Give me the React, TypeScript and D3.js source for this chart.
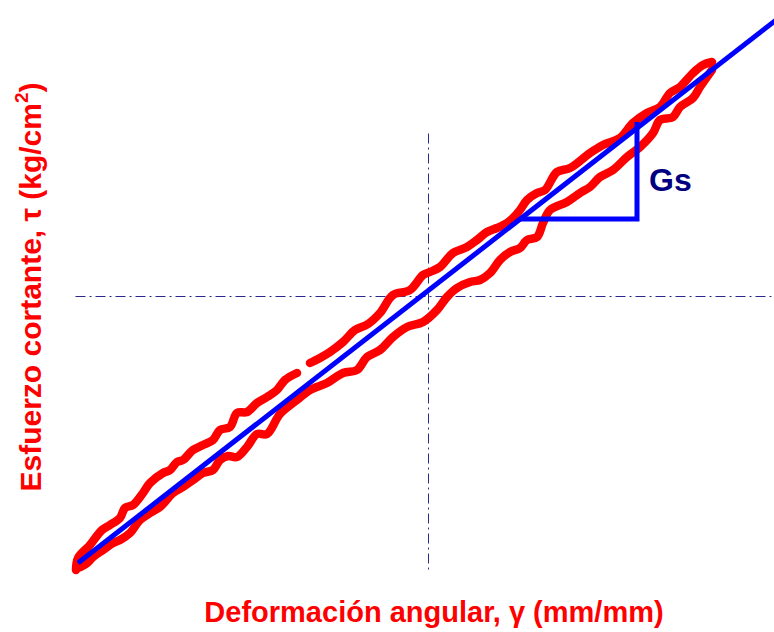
import React from "react";
import * as d3 from "d3";

type P = [number, number];

// Hysteresis loop: shear strain (gamma) vs shear stress (tau), arbitrary units
const upperBranchA: P[] = [
  [-3.52, -2.74], [-3.5, -2.62], [-3.38, -2.49], [-3.26, -2.34], [-3.18, -2.29],
  [-3.08, -2.22], [-3.03, -2.12], [-2.95, -2.09], [-2.85, -1.97], [-2.78, -1.87],
  [-2.65, -1.77], [-2.58, -1.74], [-2.51, -1.66], [-2.45, -1.64], [-2.35, -1.54],
  [-2.25, -1.49], [-2.15, -1.44], [-2.08, -1.34], [-1.98, -1.31], [-1.91, -1.17],
  [-1.81, -1.16], [-1.71, -1.07], [-1.61, -1.01], [-1.51, -0.94], [-1.43, -0.84],
  [-1.31, -0.77],
];
const upperBranchB: P[] = [
  [-1.18, -0.67], [-1.08, -0.62], [-0.98, -0.56], [-0.85, -0.46], [-0.73, -0.34],
  [-0.6, -0.28], [-0.48, -0.17], [-0.35, 0.01], [-0.18, 0.06], [-0.05, 0.21],
  [0.02, 0.24], [0.12, 0.29], [0.25, 0.43], [0.39, 0.49], [0.49, 0.56],
  [0.59, 0.64], [0.69, 0.68], [0.79, 0.73], [0.85, 0.78], [0.92, 0.86],
  [0.99, 0.96], [1.09, 1.03], [1.17, 1.06], [1.29, 1.24], [1.42, 1.28],
  [1.62, 1.43], [1.75, 1.51], [1.92, 1.58], [2.05, 1.73], [2.19, 1.83],
  [2.32, 1.89], [2.42, 2.03], [2.52, 2.09], [2.65, 2.23], [2.75, 2.31],
  [2.84, 2.34],
];
const lowerBranch: P[] = [
  [2.84, 2.26], [2.72, 2.09], [2.65, 1.98], [2.52, 1.89], [2.45, 1.79],
  [2.32, 1.76], [2.25, 1.63], [2.12, 1.49], [1.99, 1.39], [1.85, 1.26],
  [1.72, 1.19], [1.62, 1.09], [1.52, 1.03], [1.39, 0.94], [1.22, 0.86],
  [1.15, 0.73], [1.09, 0.59], [0.99, 0.56], [0.92, 0.48], [0.82, 0.44],
  [0.72, 0.36], [0.62, 0.23], [0.52, 0.16], [0.42, 0.14], [0.29, 0.08],
  [0.19, -0.01], [0.09, -0.14], [-0.05, -0.26], [-0.21, -0.31], [-0.35, -0.41],
  [-0.48, -0.54], [-0.61, -0.61], [-0.71, -0.74], [-0.85, -0.77], [-1.01, -0.87],
  [-1.18, -0.94], [-1.31, -1.04], [-1.48, -1.18], [-1.61, -1.38], [-1.71, -1.38],
  [-1.81, -1.51], [-1.91, -1.61], [-2.0, -1.6], [-2.08, -1.64], [-2.15, -1.74],
  [-2.25, -1.77], [-2.35, -1.84], [-2.45, -1.91], [-2.55, -1.97], [-2.68, -2.11],
  [-2.78, -2.17], [-2.88, -2.24], [-2.98, -2.37], [-3.08, -2.44], [-3.15, -2.47],
  [-3.25, -2.54], [-3.35, -2.61], [-3.41, -2.67], [-3.5, -2.72],
];
const secantLine: P[] = [[-3.5, -2.67], [3.48, 2.76]];
const slopeTriangle: P[] = [[0.92, 0.77], [2.09, 0.77], [2.09, 1.74]];
const xAxisLine: P[] = [[-3.53, 0], [3.46, 0]];
const yAxisLine: P[] = [[0, 1.63], [0, -2.76]];

const xLabel = "Deformación angular, γ (mm/mm)";
const yLabelMain = "Esfuerzo cortante, τ (kg/cm";
const slopeLabel = "Gs";

const W = 774;
const H = 632;

export default function App() {
  const x = d3.scaleLinear().domain([-3.5, 3.5]).range([78, 778]);
  const y = d3.scaleLinear().domain([-2.7, 2.7]).range([566, 26]);
  const smooth = d3
    .line<P>()
    .x((d) => x(d[0]))
    .y((d) => y(d[1]))
    .curve(d3.curveCatmullRom.alpha(0.5));
  const straight = d3
    .line<P>()
    .x((d) => x(d[0]))
    .y((d) => y(d[1]));

  const font = "Arial, 'Liberation Sans', Helvetica, sans-serif";

  return (
    <svg
      width={W}
      height={H}
      style={{ position: "absolute", left: 0, top: 0, background: "#fff" }}
    >
      <g transform="translate(0.5,0.5)">
        <path
          d={straight(xAxisLine) || ""}
          stroke="#28288f"
          strokeWidth={1}
          strokeDasharray="10,4,2,4"
          fill="none"
        />
        <path
          d={straight(yAxisLine) || ""}
          stroke="#28288f"
          strokeWidth={1}
          strokeDasharray="10,4,2,4"
          fill="none"
        />
      </g>
      {[upperBranchA, upperBranchB, lowerBranch].map((b, i) => (
        <path
          key={i}
          d={smooth(b) || ""}
          stroke="#ff0000"
          strokeWidth={8.5}
          strokeLinecap="round"
          strokeLinejoin="round"
          fill="none"
        />
      ))}
      <path
        d={straight(secantLine) || ""}
        stroke="#0000ff"
        strokeWidth={5}
        fill="none"
      />
      <path
        d={straight(slopeTriangle) || ""}
        stroke="#0000ff"
        strokeWidth={5}
        strokeLinejoin="miter"
        fill="none"
      />
      <text
        x={649}
        y={191}
        fontFamily={font}
        fontWeight="bold"
        fontSize={32}
        fill="#000080"
      >
        {slopeLabel}
      </text>
      <text
        x={434}
        y={622}
        textAnchor="middle"
        fontFamily={font}
        fontWeight="bold"
        fontSize={29}
        fill="#ff0000"
      >
        {xLabel}
      </text>
      <text
        transform="translate(41,287) rotate(-90)"
        textAnchor="middle"
        fontFamily={font}
        fontWeight="bold"
        fontSize={30}
        fill="#ff0000"
      >
        {yLabelMain}
        <tspan fontSize={19} dy={-13}>
          2
        </tspan>
        <tspan dy={13}>)</tspan>
      </text>
    </svg>
  );
}
